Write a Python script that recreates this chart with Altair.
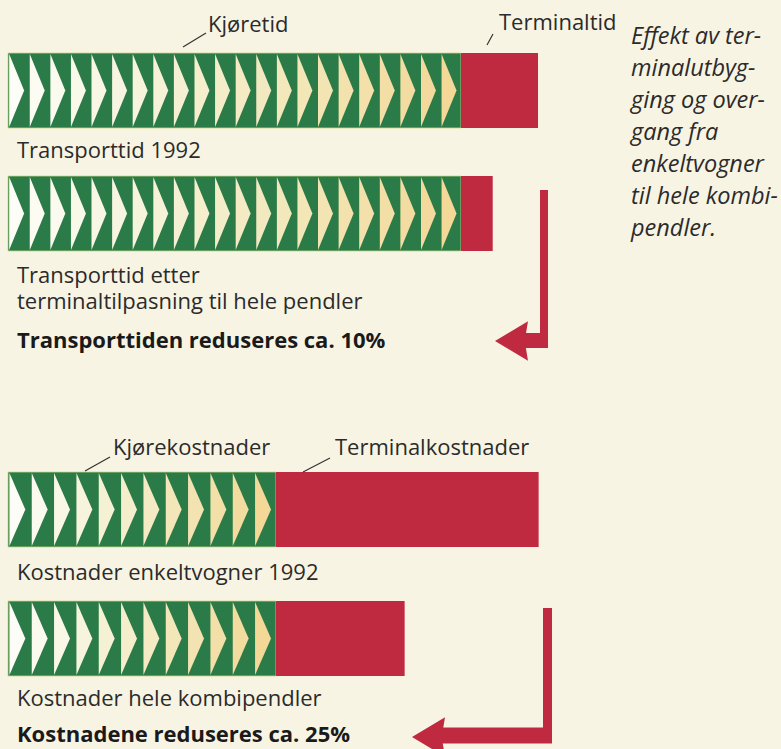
import altair as alt
import pandas as pd

# ---------------- data ----------------
bar_section = ["tid", "tid", "kost", "kost"]
drive_part = [100, 100, 50, 50]        # Kjøretid / Kjørekostnader
terminal_part = [17, 7, 49, 24]        # Terminaltid / Terminalkostnader

segment_labels = ["Kjøretid", "Terminaltid", "Kjørekostnader", "Terminalkostnader"]
bar_captions = ["Transporttid 1992",
                ["Transporttid etter", "terminaltilpasning til hele pendler"],
                "Kostnader enkeltvogner 1992", "Kostnader hele kombipendler"]
conclusions = ["Transporttiden reduseres ca. 10%", "Kostnadene reduseres ca. 25%"]
side_note = ["Effekt av ter-", "minalutbyg-", "ging og over-", "gang fra",
             "enkeltvogner", "til hele kombi-", "pendler."]

# ---------------- layout / style ----------------
W, H = 781, 749
X0 = 8
PX_PER_UNIT = {"tid": 4.53, "kost": 5.36}
BAR_TOP = [53, 176, 472, 601]
BAR_H = 75
CHEVRONS = {"tid": 22, "kost": 12}
TRI_HALF = {"tid": 0.205, "kost": 0.218}
TRI_POS = 0.42
GREEN = "#2a7b47"
RED = "#bf2a40"
BG = "#f8f4e3"
INK = "#2b2b2b"
FONT = "Open Sans"

seg_pos = [(208, 32), (499, 30), (113, 455), (335, 455)]
seg_leaders = [(183, 47, 206, 33), (487, 45, 493, 34), (85, 471, 110, 457), (303, 472, 330, 458)]
cap_pos = [(17, 158), (17, 283), (17, 580), (17, 706)]
CAP_LH = 26
concl_pos = [(17, 348), (17, 742)]
note_x, note_y0, note_lh = 631, 44, 32

ypx = alt.Scale(domain=[0, H], range=[0, H], nice=False, zero=False)
xpx = alt.Scale(domain=[0, W], range=[0, W], nice=False, zero=False)


def xscale(sec):
    p = PX_PER_UNIT[sec]
    return alt.Scale(domain=[-X0 / p, (W - X0) / p], range=[0, W], nice=False, zero=False)


# bars table
bar_rows = []
tri_rows = []
for r, sec in enumerate(bar_section):
    top = BAR_TOP[r]
    bar_rows.append(dict(sec=sec, part="drive", start=0, end=drive_part[r],
                         y=top, y2=top + BAR_H))
    bar_rows.append(dict(sec=sec, part="terminal", start=drive_part[r],
                         end=drive_part[r] + terminal_part[r], y=top, y2=top + BAR_H))
    n = CHEVRONS[sec]
    cell = drive_part[r] / n
    for i in range(n):
        tri_rows.append(dict(sec=sec, x=(i + TRI_POS) * cell, y=top + BAR_H / 2,
                             frac=i / (n - 1)))
bars = pd.DataFrame(bar_rows)
tris = pd.DataFrame(tri_rows)


def section(sec):
    sc = xscale(sec)
    b = bars[bars.sec == sec]
    t = tris[tris.sec == sec]
    base = alt.Chart(b).encode(
        x=alt.X("start:Q", scale=sc, axis=None),
        x2="end:Q",
        y=alt.Y("y:Q", scale=ypx, axis=None),
        y2="y2:Q",
    )
    green = base.transform_filter("datum.part == 'drive'").mark_bar(
        color=GREEN, cornerRadius=0, stroke="#c8d58c", strokeWidth=0.8)
    red = base.transform_filter("datum.part == 'terminal'").mark_bar(
        color=RED, cornerRadius=0, strokeWidth=0)
    a = TRI_HALF[sec]
    shape = f"M {-a} -1 L {a} 0 L {-a} 1 Z"
    tri = alt.Chart(t).mark_point(shape=shape, filled=True, opacity=1,
                                  strokeWidth=0, size=(BAR_H - 2) ** 2).encode(
        x=alt.X("x:Q", scale=sc, axis=None),
        y=alt.Y("y:Q", scale=ypx, axis=None),
        color=alt.Color("frac:Q", scale=alt.Scale(domain=[0, 1], range=["#fdfdf8", "#f3d898"]),
                        legend=None),
    )
    return alt.layer(green, red, tri)


# text table
txt = []
for s, (x, y) in zip(segment_labels, seg_pos):
    txt.append(dict(text=s, x=x, y=y, kind="reg"))
for s, (x, y) in zip(bar_captions, cap_pos):
    txt.append(dict(text=s, x=x, y=y, kind="reg"))
for s, (x, y) in zip(conclusions, concl_pos):
    txt.append(dict(text=s, x=x, y=y, kind="bold"))
for i, s in enumerate(side_note):
    txt.append(dict(text=s, x=note_x, y=note_y0 + i * note_lh, kind="ital"))
texts = pd.DataFrame(txt)

tbase = alt.Chart(texts).encode(
    x=alt.X("x:Q", scale=xpx, axis=None),
    y=alt.Y("y:Q", scale=ypx, axis=None),
    text="text",
)
t_reg = tbase.transform_filter("datum.kind == 'reg'").mark_text(
    align="left", baseline="alphabetic", font=FONT, fontSize=22, color=INK, lineHeight=CAP_LH)
t_bold = tbase.transform_filter("datum.kind == 'bold'").mark_text(
    align="left", baseline="alphabetic", font=FONT, fontSize=22, fontWeight="bold", color="#1a1a1a")
t_ital = tbase.transform_filter("datum.kind == 'ital'").mark_text(
    align="left", baseline="alphabetic", font=FONT, fontSize=23.5, fontStyle="italic", color=INK)

lead = pd.DataFrame([dict(x=a, y=b, x2=c, y2=d) for a, b, c, d in seg_leaders])
leaders = alt.Chart(lead).mark_rule(color="#333333", strokeWidth=1.2).encode(
    x=alt.X("x:Q", scale=xpx, axis=None), x2="x2:Q",
    y=alt.Y("y:Q", scale=ypx, axis=None), y2="y2:Q",
)

# reduction arrows (decoration)
arrows = [
    # vertical x, y_top, y_bottom, vert width, horiz y, horiz x_left, horiz width, head center x, head y
    (544, 190, 348, 8, 340.5, 520, 15, 511.5, 341),
    (547.5, 608, 743, 9, 735.5, 440, 16, 428.5, 737),
]
head_shape = "M -1 0 L 1 -1.2 L 0.8 0 L 1 1.2 Z"
arrow_layers = []
for vx, vy1, vy2, vw, hy, hx1, hw, cx, cy in arrows:
    arrow_layers.append(alt.Chart().mark_rule(color=RED, strokeWidth=vw).encode(
        x=alt.value(vx), y=alt.value(vy1), y2=alt.value(vy2)))
    arrow_layers.append(alt.Chart().mark_rule(color=RED, strokeWidth=hw).encode(
        x=alt.value(hx1), x2=alt.value(vx + vw / 2), y=alt.value(hy)))
    arrow_layers.append(alt.Chart().mark_point(shape=head_shape, filled=True, opacity=1,
                                               strokeWidth=0, size=33 ** 2, color=RED).encode(
        x=alt.value(cx), y=alt.value(cy)))

deco = alt.layer(leaders, t_reg, t_bold, t_ital, *arrow_layers)

chart = alt.layer(section("tid"), section("kost"), deco).resolve_scale(
    x="independent", color="independent"
).properties(
    width=W, height=H, background=BG, padding=0,
    autosize=alt.AutoSizeParams(type="none"),
).configure_view(stroke=None)

chart.save("out.html", embed_options={"renderer": "svg", "actions": False})
